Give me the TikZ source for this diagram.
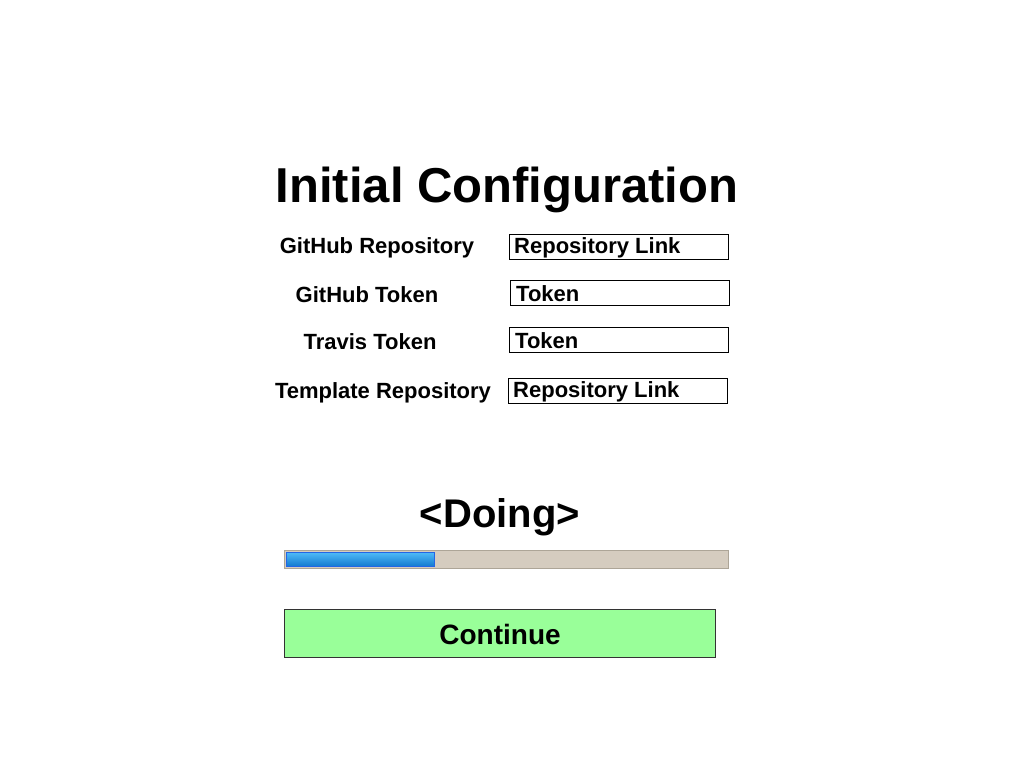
\documentclass[tikz,border=0pt]{standalone}
\usepackage{fontspec}
\setmainfont{Liberation Sans}
\begin{document}
\begin{tikzpicture}[x=1pt,y=-1pt,
  lbl/.style={font=\fontsize{22}{26}\selectfont\bfseries, inner sep=0pt},
  field/.style={draw=black, line width=0.8pt, fill=white, minimum width=219pt, minimum height=25pt, anchor=north west, inner sep=0pt},
  fieldtxt/.style={font=\fontsize{22}{26}\selectfont\bfseries, anchor=west, inner sep=0pt}]
\useasboundingbox[fill=white] (0,0) rectangle (1024,768);
\node[font=\fontsize{49}{56}\selectfont\bfseries, inner sep=0pt] (title) at (507,190) {Initial Configuration};
% labels
\node[lbl] (l1) at (377,248) {GitHub Repository};
\node[lbl] (l2) at (367,295) {GitHub Token};
\node[lbl] (l3) at (370,342) {Travis Token};
\node[lbl] (l4) at (383,393) {Template Repository};
% fields
\node[field] (f1) at (509,234) {};
\node[field] (f2) at (510,280) {};
\node[field] (f3) at (509,327) {};
\node[field] (f4) at (508,378) {};
\node[fieldtxt] (t1) at (514,248) {Repository Link};
\node[fieldtxt] (t2) at (516,294) {Token};
\node[fieldtxt] (t3) at (515,341) {Token};
\node[fieldtxt] (t4) at (513,392) {Repository Link};
% doing
\node[font=\fontsize{40}{46}\selectfont\bfseries, inner sep=0pt] (doing) at (500,517) {<Doing>};
% progress bar
\definecolor{bartan}{HTML}{D5CCBF}
\definecolor{barborder}{HTML}{ADA597}
\definecolor{bluetop}{HTML}{4FBAF7}
\definecolor{bluebot}{HTML}{1279CF}
\definecolor{blueborder}{HTML}{2366E6}
\definecolor{btngreen}{HTML}{99FF99}
\node[draw=barborder, fill=bartan, line width=1pt, minimum width=444pt, minimum height=18pt, anchor=north west, inner sep=0pt] (bar) at (284,550) {};
\node[draw=blueborder, top color=bluetop, bottom color=bluebot, line width=0.8pt, minimum width=148pt, minimum height=14pt, anchor=north west, inner sep=0pt] (prog) at (286,552) {};
% continue button
\node[draw=black!80, fill=btngreen, line width=1pt, minimum width=431pt, minimum height=48pt, anchor=north west, inner sep=0pt] (btn) at (284,609) {};
\node[font=\fontsize{28}{32}\selectfont\bfseries, inner sep=0pt] (cont) at ([yshift=-1pt]btn.center) {Continue};
\end{tikzpicture}
\end{document}
